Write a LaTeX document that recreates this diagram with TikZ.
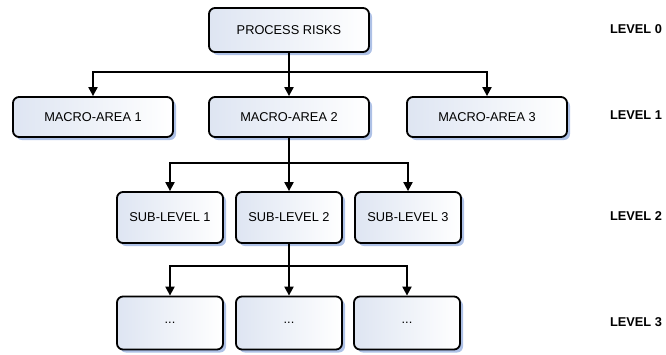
\documentclass[tikz,border=0pt]{standalone}
\usepackage{fontspec}
\setmainfont{Liberation Sans}
\usetikzlibrary{arrows.meta,shadows}
\definecolor{boxblue}{RGB}{222,229,242}
\definecolor{shadowblue}{RGB}{160,182,226}
\tikzset{
  box/.style={draw=black, line width=1.8pt, rounded corners=6pt,
    left color=boxblue, right color=white,
    drop shadow={shadow xshift=3pt, shadow yshift=-3pt, fill=shadowblue, opacity=0.85},
    font=\fontsize{12.8}{14}\selectfont, inner sep=0pt},
  bigbox/.style={box, minimum width=160pt, minimum height=44pt},
  midbox/.style={box, minimum width=160pt, minimum height=40pt},
  smallbox/.style={box, minimum width=106pt, minimum height=51pt},
  lowbox/.style={box, minimum width=106pt, minimum height=53pt},
  conn/.style={line width=2pt, -{Triangle[width=9pt,length=9pt]}},
  plain/.style={line width=2pt},
  lvl/.style={font=\bfseries\fontsize{12.8}{14}\selectfont, anchor=center}
}
\begin{document}
\begin{tikzpicture}[x=1pt,y=-1pt]
\useasboundingbox (0,0) rectangle (666,354);
% level 0
\node[bigbox] (P) at (289,30) {PROCESS RISKS};
% level 1
\node[midbox] (M1) at (93,117) {MACRO-AREA 1};
\node[midbox] (M2) at (289,117) {MACRO-AREA 2};
\node[midbox] (M3) at (487,117) {MACRO-AREA 3};
% level 2
\node[smallbox] (S1) at (170,217.5) {SUB-LEVEL 1};
\node[smallbox] (S2) at (289,217.5) {SUB-LEVEL 2};
\node[smallbox] (S3) at (408,217.5) {SUB-LEVEL 3};
% level 3
\node[lowbox] (L1) at (170,323) {...};
\node[lowbox] (L2) at (289,323) {...};
\node[lowbox] (L3) at (407,323) {...};
% junctions
\coordinate (j0) at (289,72);
\coordinate (j1) at (289,163);
\coordinate (j2) at (289,266);
% connectors
\draw[conn] (P.south) -- (M2.north);
\draw[conn] (j0) -| (M1.north);
\draw[conn] (j0) -| (M3.north);
\draw[plain] (M2.south) -- (j1);
\draw[conn] (j1) -| (S1.north);
\draw[conn] (j1) -- (S2.north);
\draw[conn] (j1) -| (S3.north);
\draw[plain] (S2.south) -- (j2);
\draw[conn] (j2) -| (L1.north);
\draw[conn] (j2) -- (L2.north);
\draw[conn] (j2) -| (L3.north);
% level labels
\node[lvl] (T0) at (636,29) {LEVEL 0};
\node[lvl] (T1) at (636,115) {LEVEL 1};
\node[lvl] (T2) at (636,216) {LEVEL 2};
\node[lvl] (T3) at (636,322) {LEVEL 3};
\end{tikzpicture}
\end{document}
